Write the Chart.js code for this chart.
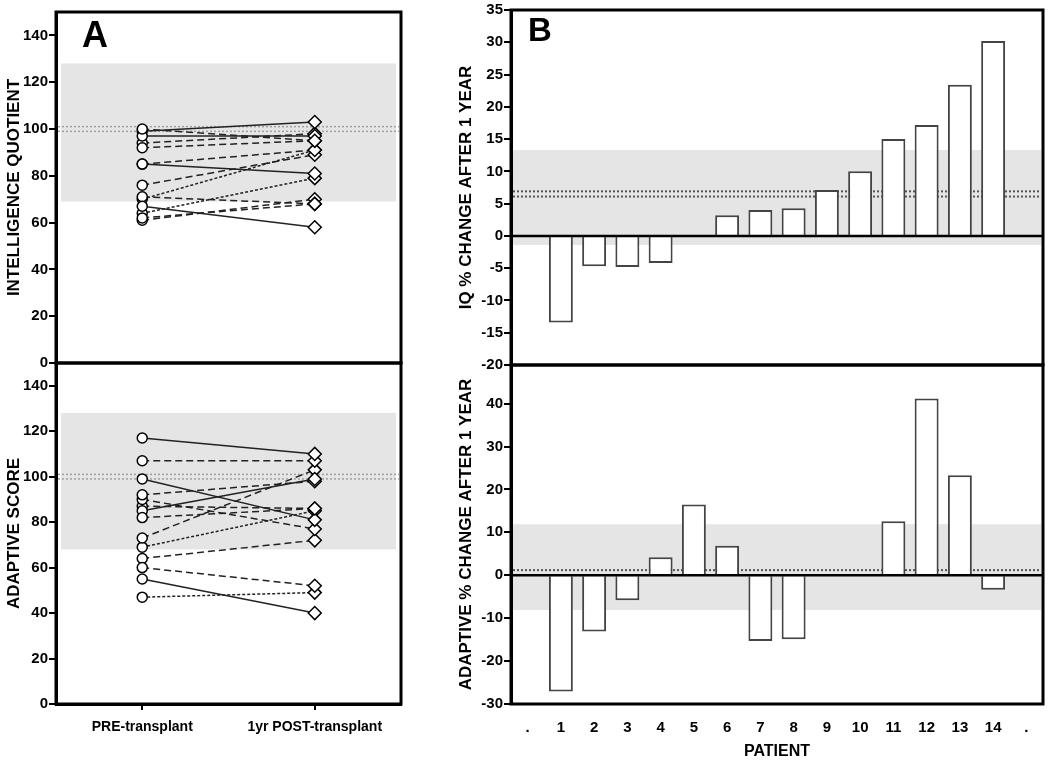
<!DOCTYPE html>
<html>
<head>
<meta charset="utf-8">
<script src="https://cdn.jsdelivr.net/npm/chart.js@4.4.0/dist/chart.umd.min.js"></script>
<style>
  body { margin: 0; background: #fff; width: 1050px; height: 764px; overflow: hidden; position: relative; font-family: "Liberation Sans", Arial, sans-serif; }
  canvas { position: absolute; left: 0; top: 0; }
  .tag { position: absolute; font-weight: bold; line-height: 1; color: #000; }
</style>
</head>
<body>
<canvas id="iqScore" width="1050" height="764"></canvas>
<canvas id="adaptScore" width="1050" height="764"></canvas>
<canvas id="iqPct" width="1050" height="764"></canvas>
<canvas id="adaptPct" width="1050" height="764"></canvas>
<div class="tag" style="left:82px;top:17px;font-size:36px">A</div>
<div class="tag" style="left:528px;top:13px;font-size:33px">B</div>
<script>
// panel A: scores before and 1 year after transplant
const groups = ['PRE-transplant', '1yr POST-transplant'];
const iqPre = [67, 100, 85, 71, 97, 92, 99, 94, 85, 62, 61, 76, 64, 70];
const iqPost = [58, 95, 81, 68, 97, 95, 103, 98, 91, 68, 70, 89, 79, 91];
const adaptPre = [55, 60, 117, 82, 85, 92, 99, 90, 107, 87, 64, 73, 69, 47];
const adaptPost = [40, 52, 110, 86, 99, 98, 81, 77, 107, 86, 72, 103, 85, 49];
const scoreTicks = [0, 20, 40, 60, 80, 100, 120, 140];
const iqNormBand = [69, 128];
const adaptNormBand = [68, 128];
const scoreMeanLines = [99, 101];

// panel B: % change per patient
const patients = ['.', '1', '2', '3', '4', '5', '6', '7', '8', '9', '10', '11', '12', '13', '14', '.'];
const iqChange = [null, -13.4, -4.7, -4.8, -4.2, 0, 3.2, 4.0, 4.3, 7.1, 10.0, 15.0, 17.2, 23.4, 30.2, null];
const adaptChange = [null, -27.1, -13.1, -5.8, 4.2, 16.5, 6.9, -15.3, -14.9, 0, 0, 12.6, 41.2, 23.3, -3.4, null];
const iqChangeTicks = [-20, -15, -10, -5, 0, 5, 10, 15, 20, 25, 30, 35];
const adaptChangeTicks = [-30, -20, -10, 0, 10, 20, 30, 40];
const iqChangeBand = [-1.4, 13.3];
const iqChangeMean = [6.1, 6.9];
const adaptChangeBand = [-8.1, 11.9];
const adaptChangeMean = [1.2];

const dashes = [[], [7, 4], [], [7, 4], [], [7, 4], [], [7, 4], [7, 4], [7, 4], [7, 4], [7, 4], [3, 2], [3, 2]];
const FONT = '"Liberation Sans", Arial, sans-serif';

function panel(band, means, opts) {
  return {
    id: 'panel',
    beforeDatasetsDraw(chart) {
      const ctx = chart.ctx, a = chart.chartArea, y = chart.scales.y;
      ctx.save();
      ctx.fillStyle = '#e5e5e5';
      const t = y.getPixelForValue(band[1]);
      const b = y.getPixelForValue(band[0]);
      ctx.fillRect(a.left + opts.inset, t, a.width - 2 * opts.inset, b - t);
      ctx.strokeStyle = opts.meanColor;
      ctx.lineWidth = opts.meanWidth;
      ctx.setLineDash([2, 2]);
      means.forEach(v => {
        const py = y.getPixelForValue(v);
        ctx.beginPath();
        ctx.moveTo(a.left + 2, py);
        ctx.lineTo(a.right - 2, py);
        ctx.stroke();
      });
      ctx.restore();
    },
    afterDraw(chart) {
      const ctx = chart.ctx, a = chart.chartArea, y = chart.scales.y;
      ctx.save();
      ctx.strokeStyle = '#000';
      if (opts.zero) {
        ctx.lineWidth = 2.5;
        const py = y.getPixelForValue(0);
        ctx.beginPath();
        ctx.moveTo(a.left, py);
        ctx.lineTo(a.right, py);
        ctx.stroke();
      }
      ctx.lineWidth = 3;
      ctx.strokeRect(a.left, a.top, a.width, a.height);
      ctx.restore();
    }
  };
}

function yAxis(min, max, ticks, title, width) {
  return {
    min: min,
    max: max,
    afterBuildTicks: s => { s.ticks = ticks.map(v => ({ value: v })); },
    afterFit: s => { s.width = width; },
    grid: { drawOnChartArea: false, color: '#000', lineWidth: 2, tickLength: 7 },
    border: { color: '#000', width: 3 },
    ticks: { color: '#000', padding: 1, font: { family: FONT, size: 15, weight: 'bold' } },
    title: { display: true, text: title, color: '#000', padding: { top: 4, bottom: 0 }, font: { family: FONT, size: 17, weight: 'bold' } }
  };
}

function fixHeight(show) {
  return s => { s.height = show ? 60 : 0; };
}

function scoreChart(id, pre, post, band, title, showX, padding) {
  const datasets = pre.map((v, i) => ({
    data: [v, post[i]],
    borderColor: '#222',
    borderWidth: 1.5,
    borderDash: dashes[i],
    pointStyle: ['circle', 'rectRot'],
    pointRadius: [5, 6.5],
    pointBackgroundColor: '#fff',
    pointBorderColor: '#000',
    pointBorderWidth: 1.5
  }));
  new Chart(document.getElementById(id), {
    type: 'line',
    data: { labels: groups, datasets: datasets },
    options: {
      responsive: false,
      animation: false,
      layout: { padding: padding },
      plugins: { legend: { display: false }, tooltip: { enabled: false } },
      scales: {
        x: {
          display: showX,
          offset: true,
          afterFit: fixHeight(showX),
          grid: { drawOnChartArea: false, color: '#000', lineWidth: 2, tickLength: 6 },
          border: { color: '#000', width: 3 },
          ticks: { color: '#000', padding: 9, font: { family: FONT, size: 14, weight: 'bold' } }
        },
        y: yAxis(0, 150, scoreTicks, title, 56)
      }
    },
    plugins: [panel(band, scoreMeanLines, { inset: 5, meanColor: '#a0a0a0', meanWidth: 1.5, zero: false })]
  });
}

function changeChart(id, values, min, max, ticks, band, means, title, showX, padding) {
  new Chart(document.getElementById(id), {
    type: 'bar',
    data: {
      labels: patients,
      datasets: [{
        data: values,
        backgroundColor: '#fff',
        borderColor: '#444',
        borderWidth: 2,
        barPercentage: 0.72,
        categoryPercentage: 1
      }]
    },
    options: {
      responsive: false,
      animation: false,
      layout: { padding: padding },
      plugins: { legend: { display: false }, tooltip: { enabled: false } },
      scales: {
        x: {
          display: showX,
          afterFit: fixHeight(showX),
          grid: { display: false },
          border: { display: false },
          ticks: { color: '#000', padding: 7, font: { family: FONT, size: 15, weight: 'bold' } },
          title: { display: true, text: 'PATIENT', color: '#000', padding: { top: 0, bottom: 3 }, font: { family: FONT, size: 16, weight: 'bold' } }
        },
        y: yAxis(min, max, ticks, title, 59)
      }
    },
    plugins: [panel(band, means, { inset: 2, meanColor: '#555', meanWidth: 2, zero: true })]
  });
}

scoreChart('iqScore', iqPre, iqPost, iqNormBand, 'INTELLIGENCE QUOTIENT', false,
  { left: 0, top: 12, right: 649, bottom: 401 });
scoreChart('adaptScore', adaptPre, adaptPost, adaptNormBand, 'ADAPTIVE SCORE', true,
  { left: 0, top: 363, right: 649, bottom: 0 });
changeChart('iqPct', iqChange, -20, 35, iqChangeTicks, iqChangeBand, iqChangeMean,
  'IQ % CHANGE AFTER 1 YEAR', false, { left: 452, top: 9, right: 7, bottom: 399 });
changeChart('adaptPct', adaptChange, -30, 49, adaptChangeTicks, adaptChangeBand, adaptChangeMean,
  'ADAPTIVE % CHANGE AFTER 1 YEAR', true, { left: 452, top: 365, right: 7, bottom: 0 });
</script>
</body>
</html>
